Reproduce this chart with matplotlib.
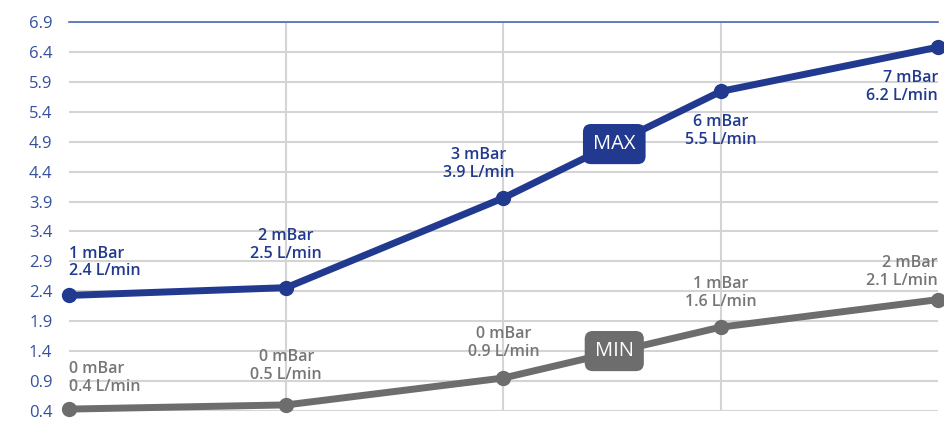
import matplotlib.pyplot as plt

# values (plotted positions)
steps = [0, 1, 2, 3, 4]
max_flow = [2.33, 2.46, 3.96, 5.74, 6.48]
min_flow = [0.43, 0.50, 0.95, 1.80, 2.26]
max_labels = ['1 mBar\n2.4 L/min', '2 mBar\n2.5 L/min', '3 mBar\n3.9 L/min',
              '6 mBar\n5.5 L/min', '7 mBar\n6.2 L/min']
min_labels = ['0 mBar\n0.4 L/min', '0 mBar\n0.5 L/min', '0 mBar\n0.9 L/min',
              '1 mBar\n1.6 L/min', '2 mBar\n2.1 L/min']
y_ticks = [0.4, 0.9, 1.4, 1.9, 2.4, 2.9, 3.4, 3.9, 4.4, 4.9, 5.4, 5.9, 6.4, 6.9]

blue = '#213a8f'
grey = '#6d6d6d'

plt.rcParams['font.family'] = ['Open Sans', 'DejaVu Sans']

fig = plt.figure(figsize=(9.44, 4.21), dpi=100)
ax = fig.add_axes([0.0731, 0.024, 0.9205, 0.9237])

ax.plot(steps, max_flow, color=blue, lw=5, marker='o', ms=10, zorder=4, clip_on=False)
ax.plot(steps, min_flow, color=grey, lw=5, marker='o', ms=10, zorder=4, clip_on=False)

# label placement (offset in pixels, alignment)
max_pos = [((0, 16), 'left', 'bottom'), ((0, 26), 'center', 'bottom'), ((-25, 17), 'center', 'bottom'),
           ((0, -23), 'center', 'top'), ((0, -23), 'right', 'top')]
min_pos = [((0, 14), 'left', 'bottom'), ((0, 22), 'center', 'bottom'), ((0, 18), 'center', 'bottom'),
           ((0, 17), 'center', 'bottom'), ((0, 11), 'right', 'bottom')]

for x, y, txt, (off, ha, va) in zip(steps, max_flow, max_labels, max_pos):
    ax.annotate(txt, (x, y), xytext=off, textcoords='offset pixels', ha=ha, va=va,
                multialignment=ha, color=blue, fontsize=11.5, fontweight='semibold',
                linespacing=1.15, zorder=5)
for x, y, txt, (off, ha, va) in zip(steps, min_flow, min_labels, min_pos):
    ax.annotate(txt, (x, y), xytext=off, textcoords='offset pixels', ha=ha, va=va,
                multialignment=ha, color='#767676', fontsize=11.5, fontweight='semibold',
                linespacing=1.15, zorder=5)

ax.text(2.51, 4.86, 'MAX', color='white', fontsize=14.5, ha='center', va='center', zorder=6,
        bbox=dict(boxstyle='round,pad=0.5,rounding_size=0.4', fc=blue, ec='none'))
ax.text(2.51, 1.40, 'MIN', color='white', fontsize=14.5, ha='center', va='center', zorder=6,
        bbox=dict(boxstyle='round,pad=0.5,rounding_size=0.4', fc=grey, ec='none'))

ax.set_xlim(0, 4)
ax.set_ylim(0.4, 6.9)
ax.set_yticks(y_ticks)
ax.set_yticklabels([f'{v:.1f}' for v in y_ticks])
ax.set_xticks([1, 2, 3])
ax.set_xticklabels([])
ax.tick_params(axis='both', length=0)
ax.tick_params(axis='y', labelsize=12, labelcolor='#34509e', pad=12)
ax.grid(True, color='#d4d4d4', lw=1.5)
ax.set_axisbelow(True)
for side in ['left', 'right', 'bottom']:
    ax.spines[side].set_visible(False)
ax.spines['top'].set_color('#4a68b8')
ax.spines['top'].set_linewidth(1.2)

fig.savefig('out.png', dpi=100)
